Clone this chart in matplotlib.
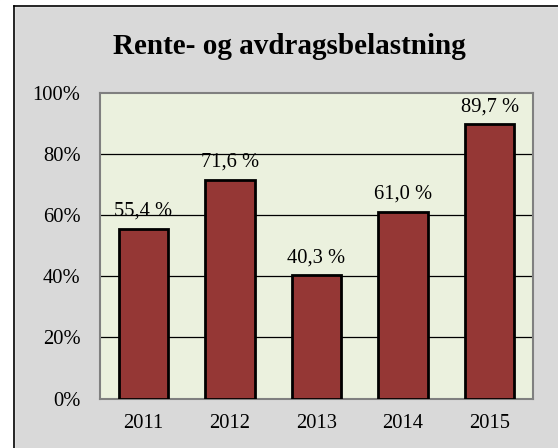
import numpy as np
import matplotlib.pyplot as plt
from matplotlib.lines import Line2D

# Data
years = ['2011', '2012', '2013', '2014', '2015']
values = [55.4, 71.6, 40.3, 61.0, 89.7]
labels = ['55,4 %', '71,6 %', '40,3 %', '61,0 %', '89,7 %']

plt.rcParams['font.family'] = ['Liberation Serif', 'DejaVu Serif']

fig = plt.figure(figsize=(5.58, 4.48), dpi=100, facecolor='#D9D9D9')
ax = fig.add_axes([100/558, 1 - 398.5/448, 433/558, 305.5/448])
ax.set_facecolor('#EBF1DE')

x = np.arange(len(years))
ax.bar(x, values, width=0.57, color='#953735', edgecolor='black', linewidth=2, zorder=3)

for xi, v, lab in zip(x, values, labels):
    ax.annotate(lab, (xi, v), xytext=(0, 6), textcoords='offset points',
                ha='center', va='bottom', fontsize=14.8)

ax.set_xlim(-0.5, len(years) - 0.5)
ax.set_ylim(0, 100)
ax.set_yticks([0, 20, 40, 60, 80, 100])
ax.set_yticklabels(['0%', '20%', '40%', '60%', '80%', '100%'])
ax.set_xticks(x)
ax.set_xticklabels(years)
ax.tick_params(axis='both', length=0, labelsize=14.8)
ax.tick_params(axis='y', pad=14)
ax.tick_params(axis='x', pad=11)

for yv in [20, 40, 60, 80]:
    ax.axhline(yv, color='black', linewidth=0.9, zorder=1)

for s in ax.spines.values():
    s.set_color('#808080')
    s.set_linewidth(1.5)

fig.text(289/558, 1 - 47/448, 'Rente- og avdragsbelastning', ha='center', va='center',
         fontsize=21, fontweight='bold')

# outer chart border (left and top visible)
fig.add_artist(Line2D([14/558, 14/558], [0, 1 - 6/448], transform=fig.transFigure, color='black', linewidth=1.2))
fig.add_artist(Line2D([14/558, 1], [1 - 6/448, 1 - 6/448], transform=fig.transFigure, color='black', linewidth=1.2))
fig.patches.append(plt.Rectangle((0, 0), 14/558, 1, transform=fig.transFigure, color='white', zorder=-1))
fig.patches.append(plt.Rectangle((0, 1 - 6/448), 1, 6/448, transform=fig.transFigure, color='white', zorder=-1))

fig.savefig('out.png', dpi=100, facecolor=fig.get_facecolor())
